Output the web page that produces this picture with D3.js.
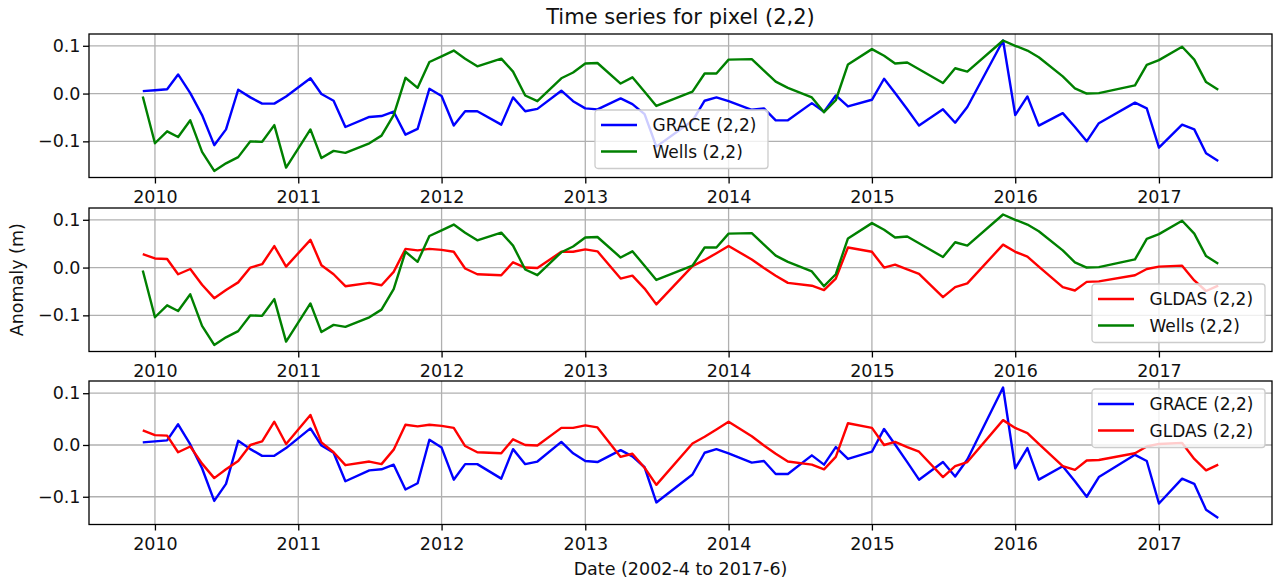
<!DOCTYPE html>
<html>
<head>
<meta charset="utf-8">
<script src="https://cdn.jsdelivr.net/npm/d3@7"></script>
<style>
  body { margin: 0; background: #fff; }
  text { font-family: "DejaVu Sans", sans-serif; fill: #111; }
</style>
</head>
<body>
<svg id="chart" width="1275" height="584"></svg>
<script>
// Monthly observation dates (months without GRACE solutions are absent)
const months = [
  "2009-12",
  "2010-01","2010-02","2010-03","2010-04","2010-05","2010-06","2010-07","2010-08","2010-09","2010-10","2010-11","2010-12",
  "2011-02","2011-03","2011-04","2011-05",
  "2011-07","2011-08","2011-09","2011-10","2011-11","2011-12",
  "2012-01","2012-02","2012-03","2012-04",
  "2012-06","2012-07","2012-08","2012-09",
  "2012-11","2012-12","2013-01","2013-02",
  "2013-04","2013-05","2013-06","2013-07",
  "2013-10","2013-11","2013-12","2014-01",
  "2014-03","2014-04","2014-05","2014-06",
  "2014-08","2014-09","2014-10","2014-11",
  "2015-01","2015-02","2015-03","2015-04","2015-05",
  "2015-07","2015-08","2015-09",
  "2015-12","2016-01","2016-02","2016-03",
  "2016-05","2016-06","2016-07","2016-08",
  "2016-11","2016-12","2017-01",
  "2017-03","2017-04","2017-05","2017-06"
];

// Storage anomaly (m) for pixel (2,2)
const grace = [
  0.005,
  0.007, 0.009, 0.040, 0.001, -0.045, -0.108, -0.075, 0.008, -0.008, -0.021, -0.021, -0.006,
  0.032, -0.001, -0.015, -0.070,
  -0.049, -0.047, -0.038, -0.086, -0.074, 0.010,
  -0.005, -0.067, -0.037, -0.037,
  -0.065, -0.008, -0.037, -0.032,
  0.006, -0.016, -0.031, -0.033,
  -0.010, -0.022, -0.043, -0.111,
  -0.057, -0.015, -0.008, -0.016,
  -0.034, -0.031, -0.056, -0.056,
  -0.020, -0.038, -0.004, -0.027,
  -0.013, 0.031, 0.001, -0.033, -0.067,
  -0.033, -0.061, -0.028,
  0.111, -0.045, -0.006, -0.067,
  -0.041, -0.070, -0.100, -0.062,
  -0.019, -0.031, -0.113,
  -0.065, -0.075, -0.125, -0.141
];

const gldas = [
  0.028,
  0.019, 0.018, -0.014, -0.003, -0.036, -0.064, -0.047, -0.031, 0.000, 0.007, 0.045, 0.002,
  0.058, 0.005, -0.014, -0.039,
  -0.032, -0.037, -0.009, 0.039, 0.036, 0.039,
  0.037, 0.033, -0.002, -0.014,
  -0.016, 0.011, 0.000, -0.001,
  0.033, 0.033, 0.038, 0.034,
  -0.023, -0.017, -0.044, -0.077,
  0.003, 0.016, 0.030, 0.045,
  0.017, -0.001, -0.017, -0.032,
  -0.038, -0.047, -0.023, 0.042,
  0.033, 0.000, 0.006, -0.004, -0.013,
  -0.062, -0.041, -0.033,
  0.048, 0.033, 0.023, 0.002,
  -0.041, -0.048, -0.030, -0.029,
  -0.016, -0.003, 0.002,
  0.004, -0.027, -0.049, -0.038
];

const wells = [
  -0.006,
  -0.104, -0.079, -0.091, -0.056, -0.122, -0.162, -0.146, -0.133, -0.100, -0.101, -0.066, -0.155,
  -0.075, -0.135, -0.120, -0.124,
  -0.104, -0.088, -0.045, 0.033, 0.012, 0.066,
  0.078, 0.090, 0.073, 0.057,
  0.073, 0.046, -0.004, -0.016,
  0.032, 0.044, 0.063, 0.064,
  0.021, 0.034, 0.004, -0.026,
  0.004, 0.042, 0.042, 0.071,
  0.072, 0.048, 0.025, 0.012,
  -0.008, -0.039, -0.014, 0.061,
  0.093, 0.079, 0.063, 0.065, 0.051,
  0.022, 0.053, 0.046,
  0.111, 0.100, 0.090, 0.076,
  0.036, 0.011, 0.000, 0.001,
  0.017, 0.060, 0.070,
  0.098, 0.071, 0.024, 0.008
];

const yearTicks = [2010, 2011, 2012, 2013, 2014, 2015, 2016, 2017];
const anomalyTicks = [-0.1, 0.0, 0.1];

const seriesDefs = {
  grace: { name: "GRACE (2,2)", values: grace, color: "#0000ff" },
  gldas: { name: "GLDAS (2,2)", values: gldas, color: "#ff0000" },
  wells: { name: "Wells (2,2)", values: wells, color: "#008000" }
};

// Three stacked comparisons sharing the time axis
const panels = [
  { keys: ["grace", "wells"], top: 34,  legend: { x: 595,  y: 110 } },
  { keys: ["gldas", "wells"], top: 208, legend: { x: 1092, y: 284 } },
  { keys: ["grace", "gldas"], top: 381, legend: { x: 1092, y: 389 } }
];

const left = 89, right = 1272, panelH = 143.5;
const svg = d3.select("#chart");
const dates = months.map(d3.timeParse("%Y-%m"));

// matplotlib-style 5% margins around the data
const [d0, d1] = d3.extent(dates);
const dSpan = d1 - d0;
const x = d3.scaleTime()
  .domain([new Date(+d0 - 0.05 * dSpan), new Date(+d1 + 0.05 * dSpan)])
  .range([left, right]);

const tickFont = 17.5;

panels.forEach(p => {
  const bottom = p.top + panelH;
  const all = p.keys.flatMap(k => seriesDefs[k].values);
  const [v0, v1] = d3.extent(all);
  const vPad = 0.05 * (v1 - v0);
  const y = d3.scaleLinear().domain([v0 - vPad, v1 + vPad]).range([bottom, p.top]);

  const g = svg.append("g");

  // grid
  g.append("g").selectAll("line.vg").data(yearTicks).join("line")
    .attr("x1", d => x(new Date(d, 0, 1))).attr("x2", d => x(new Date(d, 0, 1)))
    .attr("y1", p.top).attr("y2", bottom)
    .attr("stroke", "#b0b0b0").attr("stroke-width", 1.3);
  g.append("g").selectAll("line.hg").data(anomalyTicks).join("line")
    .attr("x1", left).attr("x2", right)
    .attr("y1", d => y(d)).attr("y2", d => y(d))
    .attr("stroke", "#b0b0b0").attr("stroke-width", 1.3);

  // series
  const line = d3.line().x((d, i) => x(dates[i])).y(d => y(d));
  p.keys.forEach(k => {
    const s = seriesDefs[k];
    g.append("path").datum(s.values)
      .attr("d", line)
      .attr("fill", "none")
      .attr("stroke", s.color)
      .attr("stroke-width", 2.4)
      .attr("stroke-linejoin", "round");
  });

  // axes
  const xAxis = d3.axisBottom(x)
    .tickValues(yearTicks.map(yr => new Date(yr, 0, 1)))
    .tickFormat(d3.timeFormat("%Y"))
    .tickSize(6).tickPadding(7);
  const xg = g.append("g").attr("transform", `translate(0,${bottom})`).call(xAxis);
  const yAxis = d3.axisLeft(y).tickValues(anomalyTicks)
    .tickFormat(d3.format(".1f")).tickSize(6).tickPadding(2.5);
  const yg = g.append("g").attr("transform", `translate(${left},0)`).call(yAxis);
  [xg, yg].forEach(a => {
    a.select(".domain").remove();
    a.selectAll(".tick line").attr("stroke", "#000").attr("stroke-width", 1.3);
    a.selectAll(".tick text").attr("font-size", tickFont)
      .attr("font-family", "DejaVu Sans, sans-serif").attr("fill", "#111");
  });

  // frame
  g.append("rect").attr("x", left).attr("y", p.top)
    .attr("width", right - left).attr("height", panelH)
    .attr("fill", "none").attr("stroke", "#000").attr("stroke-width", 1.3);

  // legend
  const lg = g.append("g").attr("transform", `translate(${p.legend.x},${p.legend.y})`);
  lg.append("rect").attr("width", 173).attr("height", 58.5).attr("rx", 3)
    .attr("fill", "#fff").attr("fill-opacity", 0.8)
    .attr("stroke", "#cccccc").attr("stroke-width", 1.3);
  p.keys.forEach((k, i) => {
    const s = seriesDefs[k];
    const ry = 15 + i * 26.5;
    lg.append("line").attr("x1", 6).attr("x2", 42).attr("y1", ry).attr("y2", ry)
      .attr("stroke", s.color).attr("stroke-width", 2.4);
    lg.append("text").attr("x", 57.5).attr("y", ry).attr("dy", "0.36em")
      .attr("font-size", 17).text(s.name);
  });
});

// titles
svg.append("text").attr("x", (left + right) / 2).attr("y", 24)
  .attr("text-anchor", "middle").attr("font-size", 21)
  .text("Time series for pixel (2,2)");
svg.append("text").attr("x", (left + right) / 2).attr("y", 575)
  .attr("text-anchor", "middle").attr("font-size", 17.5)
  .text("Date (2002-4 to 2017-6)");
svg.append("text")
  .attr("transform", `translate(23,${208 + panelH / 2}) rotate(-90)`)
  .attr("text-anchor", "middle").attr("font-size", 17.5)
  .text("Anomaly (m)");
</script>
</body>
</html>
